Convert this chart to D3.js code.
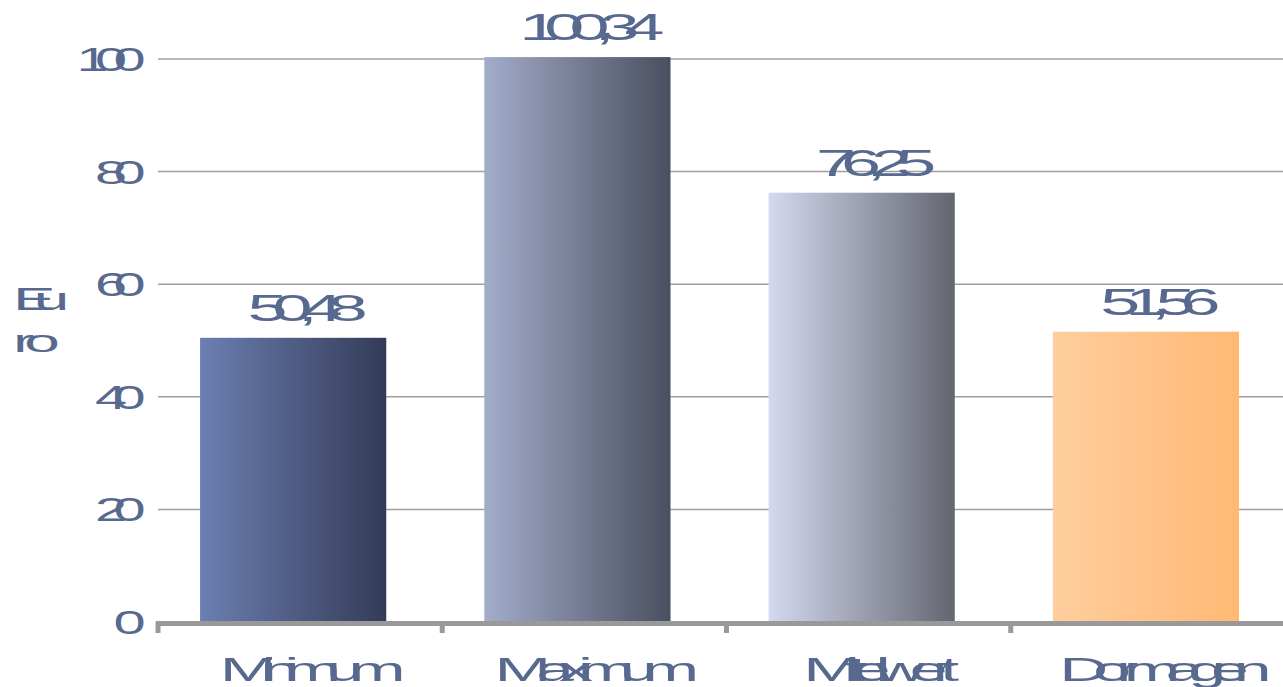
<!DOCTYPE html>
<html>
  <head>
    <meta charset="utf-8">
    <script src="https://d3js.org/d3.v7.min.js"></script>
    <style>
      body { margin: 0; background: white; }
      svg { display: block; }
      text { font-family: "Liberation Sans", Arial, sans-serif; fill: #586990; }
    </style>
  </head>
  <body>
    <div id="chart"></div>
    <script>
      // data
      var categories = ["Minimum", "Maximum", "Mittelwert", "Dormagen"];
      var values = [50.48, 100.34, 76.25, 51.56];
      var valueLabels = ["50,48", "100,34", "76,25", "51,56"];
      var yTicks = [0, 20, 40, 60, 80, 100];
      var gradStops = [
        ["#6c7fb2", "#333b57"],
        ["#a3acca", "#4a4f60"],
        ["#d4d9f1", "#63656f"],
        ["#ffce9e", "#ffb974"]
      ];

      var W = 1283, H = 687;
      var plot = {left: 158, right: 1295, top: 59, bottom: 622};
      var stretch = 2;

      var svg = d3.select("#chart").append("svg")
        .attr("width", W)
        .attr("height", H);

      var x = d3.scaleBand().domain(categories).range([plot.left, plot.right]);
      var y = d3.scaleLinear().domain([0, 100]).range([plot.bottom, plot.top]);
      var barW = x.bandwidth() * 0.655;
      var barOff = x.bandwidth() * 0.148;

      // wide glyphs, tight spacing, like the original export
      function squish(sel, size, ls) {
        sel.style("font-size", size + "px")
          .attr("letter-spacing", ls);
      }

      var defs = svg.append("defs");
      gradStops.forEach(function(s, i) {
        var g = defs.append("linearGradient")
          .attr("id", "g" + i)
          .attr("x1", "0%").attr("x2", "100%").attr("y1", "0%").attr("y2", "0%");
        g.append("stop").attr("offset", "0%").attr("stop-color", s[0]);
        g.append("stop").attr("offset", "100%").attr("stop-color", s[1]);
      });

      // gridlines
      svg.append("g").selectAll("line")
        .data(yTicks.filter(function(d) { return d > 0; }))
        .enter().append("line")
          .attr("x1", plot.left).attr("x2", W)
          .attr("y1", function(d) { return y(d); })
          .attr("y2", function(d) { return y(d); })
          .attr("stroke", "#a0a0a0")
          .attr("stroke-width", 1.5);

      // y tick labels
      svg.append("g").selectAll("text")
        .data(yTicks)
        .enter().append("text")
          .attr("transform", function(d) { return "translate(132," + (y(d) + 12) + ") scale(1.7,1)"; })
          .attr("text-anchor", "end")
          .text(function(d) { return d; })
          .call(squish, 34, -8);

      // y title
      var yt = svg.append("text")
        .attr("transform", "translate(13,310) scale(" + stretch + ",1)")
        .style("font-size", "32px");
      yt.append("tspan").attr("x", 0).attr("y", 0).attr("letter-spacing", -11).text("Eu");
      yt.append("tspan").attr("x", 0).attr("y", 42).attr("letter-spacing", -5).text("ro");

      // bars
      svg.append("g").selectAll("rect")
        .data(values)
        .enter().append("rect")
          .attr("x", function(d, i) { return x(categories[i]) + barOff; })
          .attr("y", function(d) { return y(d); })
          .attr("width", barW)
          .attr("height", function(d) { return plot.bottom - y(d); })
          .attr("fill", function(d, i) { return "url(#g" + i + ")"; });

      // value labels
      svg.append("g").selectAll("text")
        .data(values)
        .enter().append("text")
          .attr("transform", function(d, i) {
            return "translate(" + (x(categories[i]) + barOff + barW / 2 + 7) + "," + (y(d) - 17) + ") scale(" + stretch + ",1)";
          })
          .attr("text-anchor", "middle")
          .text(function(d, i) { return valueLabels[i]; })
          .call(squish, 36, -7.5);

      // x axis line and ticks
      svg.append("line")
        .attr("x1", plot.left - 2).attr("x2", W)
        .attr("y1", plot.bottom + 1.5).attr("y2", plot.bottom + 1.5)
        .attr("stroke", "#999")
        .attr("stroke-width", 5);

      svg.append("g").selectAll("line")
        .data(categories)
        .enter().append("line")
          .attr("x1", function(d) { return x(d); })
          .attr("x2", function(d) { return x(d); })
          .attr("y1", plot.bottom)
          .attr("y2", plot.bottom + 11)
          .attr("stroke", "#999")
          .attr("stroke-width", 5);

      // category labels
      svg.append("g").selectAll("text")
        .data(categories)
        .enter().append("text")
          .attr("transform", function(d) {
            return "translate(" + (x(d) + barOff + barW / 2 + 12) + ",681) scale(" + stretch + ",1)";
          })
          .attr("text-anchor", "middle")
          .text(function(d) { return d; })
          .call(squish, 34, -7.5);
    </script>
  </body>
</html>
